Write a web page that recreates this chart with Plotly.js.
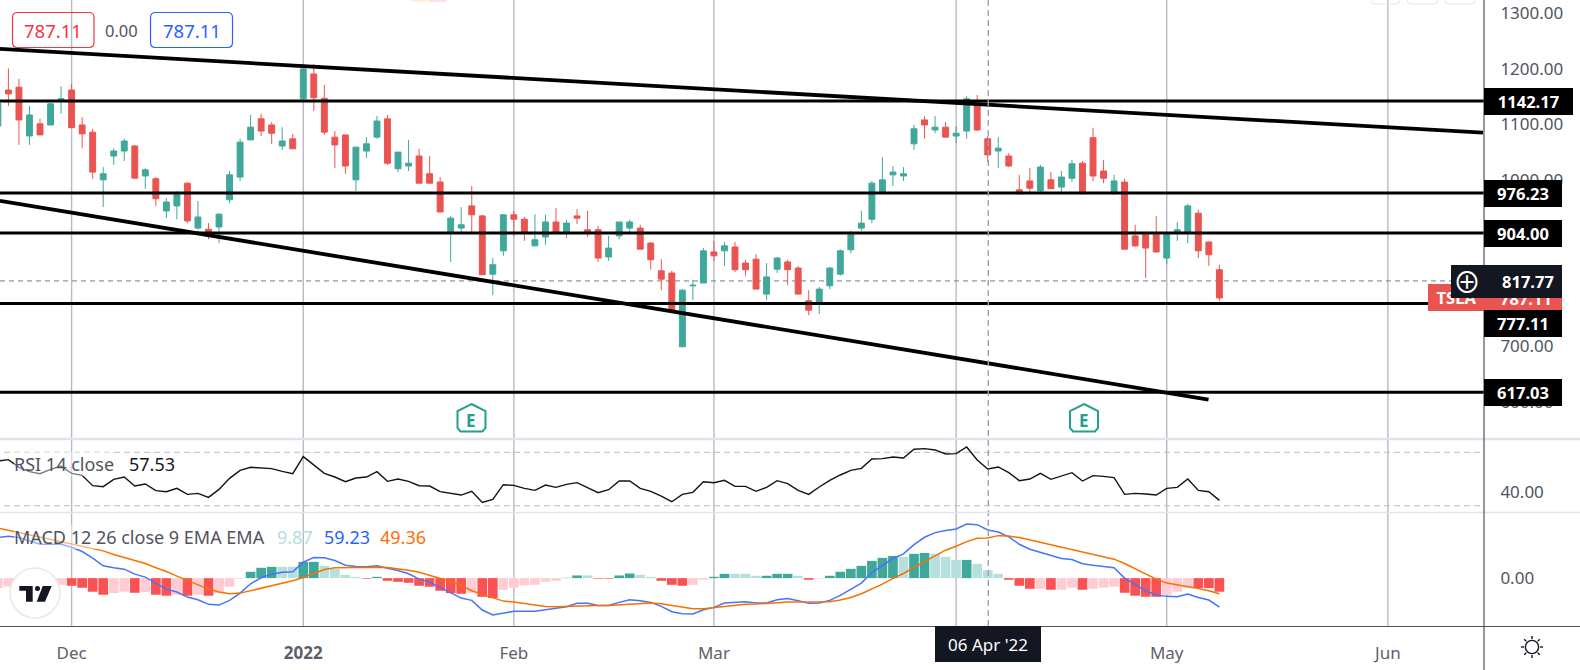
<!DOCTYPE html>
<html><head><meta charset="utf-8">
<script src="https://cdn.plot.ly/plotly-3.0.1.min.js"></script>
<style>html,body{margin:0;padding:0;background:#fff;overflow:hidden}#c{width:1580px;height:670px}</style>
</head><body><div id="c"></div>
<script>
const sessions = [
"2021-11-19","2021-11-22","2021-11-23","2021-11-24","2021-11-26","2021-11-29","2021-11-30",
"2021-12-01","2021-12-02","2021-12-03","2021-12-06","2021-12-07","2021-12-08","2021-12-09","2021-12-10","2021-12-13","2021-12-14","2021-12-15","2021-12-16","2021-12-17","2021-12-20","2021-12-21","2021-12-22","2021-12-23","2021-12-27","2021-12-28","2021-12-29","2021-12-30","2021-12-31",
"2022-01-03","2022-01-04","2022-01-05","2022-01-06","2022-01-07","2022-01-10","2022-01-11","2022-01-12","2022-01-13","2022-01-14","2022-01-18","2022-01-19","2022-01-20","2022-01-21","2022-01-24","2022-01-25","2022-01-26","2022-01-27","2022-01-28","2022-01-31",
"2022-02-01","2022-02-02","2022-02-03","2022-02-04","2022-02-07","2022-02-08","2022-02-09","2022-02-10","2022-02-11","2022-02-14","2022-02-15","2022-02-16","2022-02-17","2022-02-18","2022-02-22","2022-02-23","2022-02-24","2022-02-25","2022-02-28",
"2022-03-01","2022-03-02","2022-03-03","2022-03-04","2022-03-07","2022-03-08","2022-03-09","2022-03-10","2022-03-11","2022-03-14","2022-03-15","2022-03-16","2022-03-17","2022-03-18","2022-03-21","2022-03-22","2022-03-23","2022-03-24","2022-03-25","2022-03-28","2022-03-29","2022-03-30","2022-03-31",
"2022-04-01","2022-04-04","2022-04-05","2022-04-06","2022-04-07","2022-04-08","2022-04-11","2022-04-12","2022-04-13","2022-04-14","2022-04-18","2022-04-19","2022-04-20","2022-04-21","2022-04-22","2022-04-25","2022-04-26","2022-04-27","2022-04-28","2022-04-29",
"2022-05-02","2022-05-03","2022-05-04","2022-05-05","2022-05-06","2022-05-09","2022-05-10","2022-05-11","2022-05-12","2022-05-13","2022-05-16","2022-05-17","2022-05-18","2022-05-19","2022-05-20","2022-05-23","2022-05-24","2022-05-25","2022-05-26","2022-05-27","2022-05-31",
"2022-06-01"];
const tickDates = ["2021-12-01","2022-01-03","2022-02-01","2022-03-01","2022-04-01","2022-05-02","2022-06-01"];
const tickLabels = ["Dec","<b>2022</b>","Feb","Mar","","May","Jun"];

const open = [1097,1162,1167,1079,1101,1099,1144,
1162,1099,1086,1000,1043,1052,1061,1007,1002,944,
953,994,913,911,915,964,1005,1072,1110,1099,
1061,1074,1146,1191,1147,1077,1081,1000,1052,1077,
1110,1020,1025,1043,1011,996,906,913,953,935,
830,872,937,929,881,897,924,904,935,910,
910,861,899,913,913,886,836,832,699,809,
814,870,872,879,850,857,794,839,852,841,
782,780,809,830,874,913,929,977,1009,1007,
1065,1108,1090,1095,1079,1088,1135,1074,1052,1043,
982,998,980,1000,987,1003,1030,1076,1016,975,
996,899,901,901,859,905,904,940,888,838];
const close = [1138,1155,1108,1117,1081,1137,1146,
1094,1083,1014,1011,1052,1070,1003,1018,966,960,
973,926,933,899,938,1009,1068,1095,1088,1084,
1070,1056,1200,1148,1086,1063,1025,1059,1065,1106,
1030,1050,1030,994,994,942,931,919,937,829,
847,937,929,906,892,924,904,922,931,906,
859,877,924,924,875,856,821,765,801,810,
872,863,881,838,838,803,825,859,838,794,
765,803,841,872,901,922,994,1000,1014,1011,
1092,1099,1095,1077,1084,1146,1090,1045,1057,1025,
975,985,1023,984,1005,1029,975,1007,1003,998,
875,881,877,870,901,910,953,872,865,787.11];
const high = [1140,1201,1182,1133,1110,1139,1169,
1173,1113,1092,1023,1057,1074,1063,1021,1005,967,
980,996,962,922,940,1016,1074,1117,1119,1104,
1095,1083,1203,1209,1171,1088,1081,1059,1077,1115,
1117,1050,1072,1056,1043,1005,935,951,989,937,
859,938,944,933,938,937,949,928,947,944,
917,899,924,928,919,888,857,836,803,820,
877,890,888,888,856,866,850,861,856,845,
801,807,843,875,908,944,998,1041,1025,1023,
1099,1115,1115,1104,1097,1151,1153,1079,1077,1048,
1009,1021,1027,1014,1016,1036,1034,1094,1036,1009,
1002,919,901,935,904,924,957,946,888,847];
const low = [1095,1133,1063,1063,1081,1099,1119,
1094,1057,1002,951,1027,1034,1003,984,953,931,
929,922,910,893,886,958,998,1072,1079,1065,
1054,1056,1146,1124,1081,1021,1011,980,1039,1074,
1027,1014,1016,994,994,942,852,906,906,829,
792,863,899,890,881,883,904,895,920,897,
852,854,893,906,875,838,801,765,699,783,
814,854,845,834,827,803,783,832,810,794,
756,758,803,827,868,908,922,976,989,998,
1054,1074,1084,1077,1066,1074,1088,1032,1021,1023,
975,976,978,984,975,996,975,998,994,975,
875,879,823,870,848,890,886,859,845,782];

const rsi = [63.5,64.5,58.75,55.5,54,57.25,59.75,
54.25,52.75,45,44.25,49.75,51.5,44.75,46.25,41.25,40.5,
43,38.5,39.25,36.25,42.25,50.5,56.5,58.75,58.25,57.75,
55.75,54,66.75,60.5,54.25,51.5,48,50.75,51.5,55.5,
48.25,50,48.25,45,44.75,40.5,39,38,40.75,32.5,
34.75,45.75,45.25,43,41.5,45.5,43.75,46,47.25,43.75,
39.75,42,48.5,48.5,43,40.75,37.25,33,38.5,40,
48,47.25,49,44.5,44.5,40.75,43.75,48.75,46.5,41.5,
38.5,44,49,53,56.5,58,65,65.25,66.5,65.75,
72.25,72.75,71.75,68.75,69,74,64.25,57.53,59,54.75,
48.75,50,54.25,49.75,52.25,54.75,48.5,52.5,52,51,
38.5,39.25,38.75,38,43,43.75,50,41.5,40.5,34];

const macd = [49.8,51.4,49.8,45.7,41.6,41.6,41.6,
38,32.7,24.5,15.1,12.7,11,4.9,1.2,-6.1,-13.5,
-17.1,-23.3,-26.5,-32.2,-33.1,-27.3,-18.4,-6.9,0.4,4.9,
7.3,7.8,19.6,25.3,24.9,21.6,15.9,14.3,13.9,15.1,
12.2,9.4,5.3,-1.2,-4.9,-11.4,-18.4,-24.5,-27.3,-39.2,
-45.3,-42.9,-40.8,-40.8,-40.8,-38.8,-36.7,-35.1,-31,-31,
-33.5,-33.5,-29.8,-26.5,-27.8,-29.8,-34.7,-41.2,-43.7,-44.1,
-38.8,-35.9,-30.6,-29.8,-29,-30.6,-30.6,-26.5,-24.9,-27.8,
-31,-30.6,-27.3,-21.2,-13.5,-6.1,6.9,15.9,24.1,29.8,
41.2,50.2,55.9,58.4,60.4,66.5,65.7,59.23,56.7,50.6,
41.6,35.5,31.8,27.3,24.1,22.9,17.6,15.9,14.3,12.7,
0,-7.3,-15.5,-20.8,-22.4,-22.9,-19.6,-23.7,-26.9,-35.5];
const signal = [61.6,58.8,55.9,53.1,50.2,47.8,44.9,
42.4,39.2,36.3,33.5,29,25.3,21.6,18,12.7,8.2,
2.4,-2.9,-8.2,-13.5,-17.1,-19.2,-18.4,-15.5,-12.2,-9,
-6.1,-3.3,0.8,5.7,10.6,12.7,13.1,13.1,13.5,13.5,
13.1,11.8,9.8,7.3,3.7,0,-4.1,-9,-15.5,-20,
-24.1,-28.2,-29.4,-31.4,-33.1,-34.7,-35.1,-34.7,-33.5,-33.1,
-33.5,-33.5,-32.7,-31.4,-30.6,-30.6,-31.4,-33.5,-35.9,-37.6,
-37.6,-36.3,-34.7,-33.5,-32.2,-31.8,-31.4,-30.2,-29.4,-29.4,
-29.8,-29.4,-29,-26.9,-23.7,-19.2,-13.5,-7.3,-0.4,5.7,
13.1,20,27.8,34.3,39.2,44.9,49,49.36,52.2,51.8,
49.8,46.9,44.1,40.8,38,35.1,31.8,29,26.1,23.3,
18,11.4,4.9,-1.2,-6.1,-8.2,-10.2,-12.7,-15.5,-19.2];
const hist = [-12.2,-10.2,-6.1,-5.3,-5.3,-5.3,-8.2,
-9.4,-11.8,-16.7,-20.4,-18.4,-16.7,-18,-17.1,-20.4,-21.6,
-20.4,-21.6,-20.4,-21.6,-18.4,-10.6,-0.8,7.8,12.7,13.9,
13.9,13.9,20,20,15.1,11.4,4.1,1.6,-0.8,1.6,
-3.3,-4.5,-5.7,-9.4,-10.6,-15.5,-18.4,-19.2,-18,-22.9,
-24.5,-14.3,-11.8,-9,-8.2,-4.5,-3.3,0.4,3.3,3.3,
-0.8,-0.8,3.3,5.7,4.1,1.6,-3.3,-8.2,-9.4,-8.2,
-2,1.6,5.3,5.3,5.3,2.9,2.9,5.3,5.3,2.9,
-2,-0.8,2.9,7.8,11.4,15.1,21.2,24.9,27.3,26.1,
29.8,31,29.8,26.1,22.4,22.4,17.6,9.87,5.3,-2,
-9.4,-13.1,-13.1,-14.3,-14.3,-11.8,-14.3,-13.1,-11.8,-10.6,
-18,-21.6,-22.9,-22.9,-20.4,-16.7,-12.2,-12.2,-12.2,-16.7];
const histStrong = [0,0,1,0,0,0,0,
1,1,1,1,0,0,1,0,1,1,
0,1,0,1,0,0,0,1,1,1,
0,0,1,1,0,0,0,0,1,1,
1,1,1,1,1,1,1,1,0,1,
1,0,0,0,0,0,0,1,1,0,
1,1,1,1,0,0,1,1,1,0,
0,1,1,0,0,0,1,1,1,0,
1,0,1,1,1,1,1,1,1,0,
1,1,0,0,0,1,0,0,0,1,
1,1,0,1,0,0,1,0,0,0,
1,1,1,1,0,0,0,1,1,1];

const levels = [1142.17,976.23,904,777.11,617.03];
const lastPriceLine = [817.77];
const rsiBands = [70,30];
const upperTrendX = [0.2,141.03], upperTrendY = [1236,1085];
const lowerTrendX = [0.2,114.97], lowerTrendY = [962,604];

const W=1580,H=670;
const px=x=>x/W, py=y=>1-y/H;
const FONT='"Noto Sans",sans-serif', GRAY='#50535e';
const xIdx=sessions.slice(0,open.length).map((_,i)=>i);

const traces=[
 {type:'candlestick',x:xIdx,open,high,low,close,xaxis:'x',yaxis:'y',whiskerwidth:0,hoverinfo:'skip',
  increasing:{line:{color:'#3fa89a',width:1},fillcolor:'#3fa89a'},
  decreasing:{line:{color:'#ea5450',width:1},fillcolor:'#ea5450'}},
 {type:'scatter',mode:'lines',x:upperTrendX,y:upperTrendY,xaxis:'x',yaxis:'y',line:{color:'#000',width:3.8},hoverinfo:'skip'},
 {type:'scatter',mode:'lines',x:lowerTrendX,y:lowerTrendY,xaxis:'x',yaxis:'y',line:{color:'#000',width:3.8},hoverinfo:'skip'},
 {type:'scatter',mode:'lines',x:xIdx,y:rsi,xaxis:'x',yaxis:'y2',line:{color:'#131313',width:1.4},hoverinfo:'skip'},
 {type:'bar',x:xIdx,y:hist,xaxis:'x',yaxis:'y3',hoverinfo:'skip',
  marker:{line:{width:0},color:hist.map((v,i)=>v>=0?(histStrong[i]?'#3fa89a':'#b6e0db'):(histStrong[i]?'#fa5252':'#ffccd3'))}},
 {type:'scatter',mode:'lines',x:xIdx,y:macd,xaxis:'x',yaxis:'y3',line:{color:'#4a72fb',width:1.5},hoverinfo:'skip'},
 {type:'scatter',mode:'lines',x:xIdx,y:signal,xaxis:'x',yaxis:'y3',line:{color:'#f57200',width:1.5},hoverinfo:'skip'}
];

function line(x0,y0,x1,y1,color,width,dash){return {type:'line',xref:'paper',yref:'paper',x0:px(x0),y0:py(y0),x1:px(x1),y1:py(y1),line:{color,width,dash:dash||'solid'},layer:'above'};}
function roundRect(x0,y0,x1,y1,r,stroke,fill,w){
 const p=(x,y)=>`${px(x)},${py(y)}`;
 return {type:'path',xref:'paper',yref:'paper',layer:'above',
  path:`M${p(x0+r,y0)} L${p(x1-r,y0)} Q${p(x1,y0)} ${p(x1,y0+r)} L${p(x1,y1-r)} Q${p(x1,y1)} ${p(x1-r,y1)} L${p(x0+r,y1)} Q${p(x0,y1)} ${p(x0,y1-r)} L${p(x0,y0+r)} Q${p(x0,y0)} ${p(x0+r,y0)} Z`,
  line:{color:stroke,width:w},fillcolor:fill};}
function poly(pts,color,fill,w){
 return {type:'path',xref:'paper',yref:'paper',layer:'above',
  path:'M'+pts.map(a=>`${px(a[0])},${py(a[1])}`).join(' L')+' Z',line:{color,width:w},fillcolor:fill};}
function circle(cx,cy,r,stroke,fill,w){
 return {type:'circle',xref:'paper',yref:'paper',layer:'above',x0:px(cx-r),x1:px(cx+r),y0:py(cy+r),y1:py(cy-r),line:{color:stroke,width:w},fillcolor:fill};}
function badge(cx){return poly([[cx,404],[cx+14,411],[cx+14,428],[cx+11,431.5],[cx-11,431.5],[cx-14,428],[cx-14,411]],'#22a08f','rgba(255,255,255,1)',2);}

const gridIdx=tickDates.map(d=>sessions.indexOf(d));
const shapes=[
 ...gridIdx.map(i=>({type:'line',xref:'x',yref:'paper',x0:i,x1:i,y0:py(626),y1:1,line:{color:'#b8bac3',width:1.4},layer:'below'})),
 ...levels.map(v=>({type:'line',xref:'paper',yref:'y',x0:0,x1:px(1484),y0:v,y1:v,line:{color:'#000',width:3},layer:'above'})),
 ...lastPriceLine.map(v=>({type:'line',xref:'paper',yref:'y',x0:0,x1:px(1484),y0:v,y1:v,line:{color:'#787b86',width:1,dash:'5px,4px'},layer:'below'})),
 ...rsiBands.map(v=>({type:'line',xref:'paper',yref:'y2',x0:px(4),x1:px(1481),y0:v,y1:v,line:{color:'#b8bbc2',width:1,dash:'6px,4px'},layer:'below'})),
 line(988.3,0,988.3,626,'#9aa1ae',1.4,'6px,4px'),
 line(0,439,1580,439,'#e0e3eb',2.5),
 line(0,512.5,1580,512.5,'#e0e3eb',1.5),
 line(1484,0,1484,670,'#50535e',1.2),
 line(0,626.5,1580,626.5,'#50535e',1.2),
 roundRect(12.5,12.5,94,47.5,5,'#f23645','rgba(255,255,255,0)',1.2),
 roundRect(150.5,12.5,232.5,47.5,5,'#2962ff','rgba(255,255,255,0)',1.2),
 roundRect(1371,-8,1400,4,4,'#e3e5ec','rgba(255,255,255,0)',1),
 roundRect(1407,-8,1438,4,4,'#e3e5ec','rgba(255,255,255,0)',1),
 roundRect(1445,-8,1475,4,4,'#e3e5ec','rgba(255,255,255,0)',1),
 roundRect(411,-8,429,2,2,'#fff1dc','#fff1dc',0),
 roundRect(429,-8,447,2,2,'#fbe0ec','#fbe0ec',0),
 badge(471.5),badge(1084),
 circle(35,593,25,'#e8e9ec','#fff',1.6),
 poly([[19.3,586],[32.7,586],[32.7,601.7],[26,601.7],[26,590.7],[19.3,590.7]],'#131722','#131722',0),
 circle(37.5,588.4,2.5,'#131722','#131722',0),
 poly([[42.7,586],[51.7,586],[45,601.7],[36.7,601.7]],'#131722','#131722',0),
 circle(1532,647,6.6,'#131722','rgba(255,255,255,0)',1.4),
 ...[0,45,90,135,180,225,270,315].map(a=>{const c=Math.cos(a*Math.PI/180),s=Math.sin(a*Math.PI/180);return line(1532+8*c,647+8*s,1532+11*c,647+11*s,'#131722',1.4);})
];

function box(text,x0,y0,x1,y1,bg,size,align){return {xref:'paper',yref:'paper',x:px(x0),y:py(y0),xanchor:'left',yanchor:'top',width:x1-x0,height:y1-y0,
 text:text,showarrow:false,bgcolor:bg,borderwidth:0,borderpad:0,align:align||'center',font:{family:FONT,size:size||16.5,color:'#fff'}};}
function label(text,x,y,color,size,anchor,bg,family){return {xref:'paper',yref:'paper',x:px(x),y:py(y),xanchor:anchor||'left',yanchor:'middle',text:text,showarrow:false,borderwidth:0,borderpad:0,
 bgcolor:bg||'rgba(0,0,0,0)',font:{family:family||FONT,size:size||16.5,color:color}};}

const annotations=[
 box('<b>1142.17</b>',1484,88,1573,115,'#000'),
 box('<b>976.23</b>',1484,180,1562,207,'#000'),
 box('<b>904.00</b>',1484,220,1562,247,'#000'),
 box('&nbsp;&nbsp;<b>TSLA</b>',1428,284,1562,311,'#ea5450',16.5,'left'),
 label('<b>787.11</b>',1500,298,'#fff',16.5),
 box('&nbsp;&nbsp;&nbsp;&nbsp;&nbsp;&nbsp;&nbsp;&nbsp;&nbsp;&nbsp;<b>817.77</b>',1451,265,1562,298,'#131722'),
 label('⊕',1467,281,'#fff',28,'center',null,'"Noto Sans CJK SC"'),
 box('<b>777.11</b>',1484,310,1562,337,'#000'),
 box('<b>617.03</b>',1484,379,1562,406,'#000'),
 box("06 Apr '22",935,626,1041,662,'#131722',17),
 label('787.11',53,30,'#f23645',18.5,'center'),
 label('0.00',122,30,'#50535e',16.5,'center'),
 label('787.11',191.5,30,'#2962ff',18.5,'center'),
 label('<b>E</b>',471.5,420,'#22a08f',17,'center'),
 label('<b>E</b>',1084,420,'#22a08f',17,'center'),
 label('RSI 14 close',14,464,GRAY,18,'left','rgba(255,255,255,0.45)'),
 label('57.53',129,464,'#131722',18),
 label('MACD 12 26 close 9 EMA EMA',14,537,GRAY,18,'left','rgba(255,255,255,0.45)'),
 label('9.87',277,537,'#b2dfdb',18),
 label('59.23',324,537,'#2962ff',18),
 label('49.36',380,537,'#ff6d00',18)
];

const yStyle={showgrid:false,zeroline:false,showline:false,side:'right',anchor:'x',tickformat:'.2f',ticks:'outside',ticklen:12,tickcolor:'rgba(0,0,0,0)',fixedrange:true,
 tickfont:{family:FONT,size:17,color:GRAY}};
const layout={
 width:W,height:H,margin:{l:0,r:0,t:0,b:0},paper_bgcolor:'#fff',plot_bgcolor:'#fff',showlegend:false,bargap:0.08,boxgap:0.2,dragmode:false,
 hovermode:false,
 xaxis:{domain:[0,1484/W],anchor:'y3',range:[0.2,141.13],tickmode:'array',tickvals:gridIdx,ticktext:tickLabels,
  showgrid:false,zeroline:false,showline:false,ticks:'outside',ticklen:12,tickcolor:'rgba(0,0,0,0)',
  tickangle:0,tickfont:{family:FONT,size:17,color:'#5d606b'},rangeslider:{visible:false},fixedrange:true},
 yaxis:{...yStyle,domain:[py(438),1],range:[534.6,1324.25],tickmode:'array',tickvals:[600,700,1000,1100,1200,1300]},
 yaxis2:{...yStyle,domain:[py(512),py(440)],range:[25.3,79.2],tickmode:'array',tickvals:[40]},
 yaxis3:{...yStyle,domain:[py(626),py(513)],range:[-58.8,80],tickmode:'array',tickvals:[0]},
 shapes,annotations
};
Plotly.newPlot('c',traces,layout,{displayModeBar:false,staticPlot:true});
</script></body></html>
